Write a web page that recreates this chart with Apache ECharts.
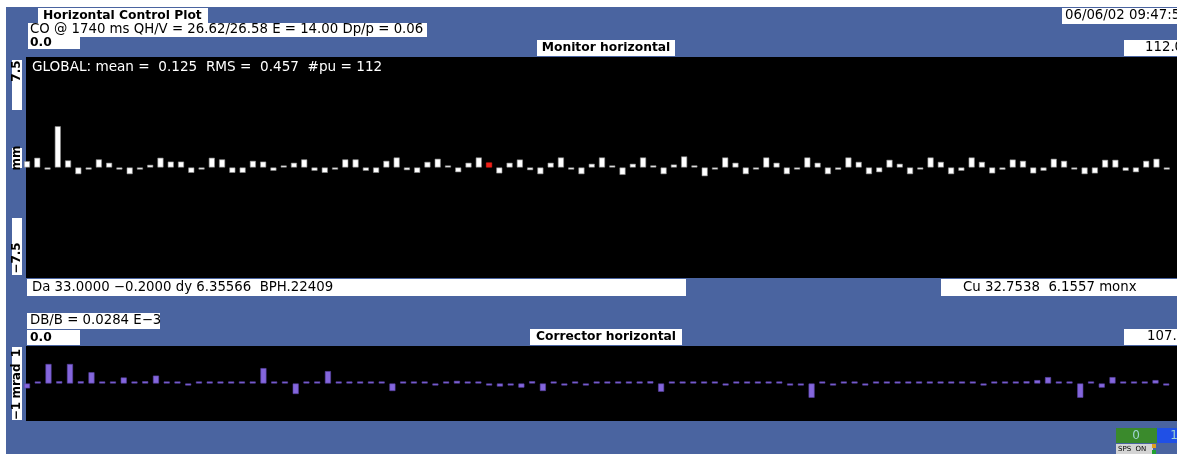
<!DOCTYPE html>
<html>
<head>
<meta charset="utf-8">
<script src="https://cdn.jsdelivr.net/npm/echarts@6/dist/echarts.min.js"></script>
<style>
  html, body { margin: 0; padding: 0; background: #ffffff; overflow: hidden; }
  #chart { width: 1177px; height: 454px; }
</style>
</head>
<body>
<div id="chart"></div>
<script>
// Beam position per pickup (mm), pickups 0..111
const monitorValues = [
  0.43, 0.66, -0.14, 2.8, 0.48, -0.45, -0.14, 0.55, 0.32, -0.14,
  -0.45, -0.14, 0.18, 0.66, 0.4, 0.4, -0.36, -0.14, 0.66, 0.55,
  -0.36, -0.36, 0.45, 0.4, -0.22, 0.02, 0.32, 0.55, -0.22, -0.36,
  -0.14, 0.55, 0.55, -0.22, -0.36, 0.45, 0.68, -0.18, -0.36, 0.38,
  0.59, 0.03, -0.32, 0.32, 0.68, 0.34, -0.4, 0.32, 0.54, -0.18,
  -0.45, 0.32, 0.68, -0.14, -0.45, 0.25, 0.68, 0.02, -0.5, 0.25,
  0.68, 0.14, -0.45, 0.2, 0.75, 0.14, -0.59, -0.1, 0.68, 0.32,
  -0.45, -0.1, 0.68, 0.32, -0.45, -0.1, 0.68, 0.32, -0.45, -0.15,
  0.68, 0.38, -0.45, -0.32, 0.52, 0.25, -0.45, -0.1, 0.68, 0.38,
  -0.45, -0.22, 0.68, 0.38, -0.4, -0.15, 0.54, 0.45, -0.4, -0.22,
  0.59, 0.45, -0.1, -0.45, -0.4, 0.52, 0.52, -0.22, -0.32, 0.45,
  0.59, -0.14
];
// Corrector kicks (mrad), correctors 0..106
const correctorValues = [
  -0.13, 0.02, 0.52, 0.06, 0.52, 0.06, 0.3, 0.01, 0.01, 0.16,
  0.01, 0.06, 0.21, 0.02, 0.01, -0.03, 0.01, 0.01, 0.01, 0.01,
  0.01, 0.01, 0.41, 0.01, 0.01, -0.28, 0.01, 0.01, 0.33, 0.01,
  0.01, 0.01, 0.01, 0.01, -0.2, 0.01, 0.01, 0.01, -0.04, 0.01,
  0.07, 0.03, 0.01, -0.04, -0.08, -0.04, -0.11, 0.06, -0.2, 0.03,
  -0.04, 0.03, -0.04, 0.03, 0.01, 0.01, 0.01, 0.03, 0.06, -0.22,
  0.01, 0.01, 0.01, 0.01, 0.01, -0.04, 0.01, 0.01, 0.01, 0.01,
  0.01, -0.04, -0.04, -0.38, 0.01, -0.04, 0.01, 0.01, -0.04, 0.03,
  0.01, 0.01, 0.01, 0.01, 0.03, 0.01, 0.01, 0.01, 0.01, -0.04,
  0.03, 0.03, 0.03, 0.06, 0.09, 0.17, 0.03, 0.01, -0.38, 0.01,
  -0.11, 0.17, 0.03, 0.01, 0.03, 0.09, -0.04
];
const selectedMonitor = 45;
const monitorAxis = { min: -7.5, max: 7.5, count: 112 };
const correctorAxis = { min: -1, max: 1, count: 107 };

const titleText = 'Horizontal Control Plot';
const timeText = '06/06/02 09:47:5';
const cycleText = 'CO @ 1740 ms QH/V = 26.62/26.58 E = 14.00 Dp/p = 0.06';
const statsText = 'GLOBAL: mean =  0.125  RMS =  0.457  #pu = 112';
const cursorLeftText = 'Da 33.0000 \u22120.2000 dy 6.35566  BPH.22409';
const cursorRightText = 'Cu 32.7538  6.1557 monx';
const dbText = 'DB/B = 0.0284 E\u22123';

const BLUE = '#4a64a0';
const PURPLE = '#8466dc';
const FONT = '"DejaVu Sans", sans-serif';
const TXT = 13.3;

const chart = echarts.init(document.getElementById('chart'), null, { renderer: 'canvas' });

function rect(x, y, w, h, fill, z) {
  return { type: 'rect', shape: { x: x, y: y, width: w, height: h }, style: { fill: fill }, z: z || 1, silent: true };
}
function text(str, x, y, opt) {
  opt = opt || {};
  return {
    type: 'text', x: x, y: y, z: 5, silent: true, rotation: opt.rotation || 0,
    style: {
      text: str,
      fill: opt.color || '#000',
      font: (opt.bold ? 'bold ' : '') + (opt.size || TXT) + 'px ' + FONT,
      textAlign: opt.align || 'left',
      textVerticalAlign: 'middle'
    }
  };
}

const graphics = [
  // window frame and panel
  rect(0, 0, 1177, 454, '#ffffff', 0),
  rect(6, 7, 1171, 447, BLUE, 0),
  // plot panels
  rect(26, 57, 1151, 221, '#000', 0),
  rect(26, 346, 1151, 75, '#000', 0),

  // header
  rect(38, 8, 170, 15, '#fff'), text(titleText, 43, 15.5, { bold: true, size: 12.3 }),
  rect(1062, 8, 120, 16, '#fff'), text(timeText, 1065, 16),
  rect(28, 23, 399, 14, '#fff'), text(cycleText, 30, 30),
  rect(28, 37, 52, 12, '#fff'), text('0.0', 30, 43, { bold: true, size: 12.3 }),
  rect(537, 40, 138, 16, '#fff'), text('Monitor horizontal', 606, 48, { bold: true, size: 12.3, align: 'center' }),
  rect(1124, 40, 60, 16, '#fff'), text('112.0', 1145, 48),
  text(statsText, 32, 67, { color: '#fff', size: 13.6 }),

  // monitor y-axis labels
  rect(12, 60, 10, 50, '#fff'), text('7.5', 17, 71, { bold: true, size: 12, rotation: Math.PI / 2, align: 'center' }),
  rect(12, 148, 10, 20, '#fff'), text('mm', 17, 158, { bold: true, size: 12, rotation: Math.PI / 2, align: 'center' }),
  rect(12, 218, 10, 57, '#fff'), text('\u22127.5', 17, 258, { bold: true, size: 12, rotation: Math.PI / 2, align: 'center' }),

  // cursor readouts
  rect(27, 279, 659, 17, '#fff'), text(cursorLeftText, 32, 287.5),
  rect(941, 279, 240, 17, '#fff'), text(cursorRightText, 963, 287.5),

  // corrector header
  rect(27, 313, 133, 16, '#fff'), text(dbText, 30, 321),
  rect(27, 330, 53, 15, '#fff'), text('0.0', 30, 337.5, { bold: true, size: 12.3 }),
  rect(530, 329, 152, 16, '#fff'), text('Corrector horizontal', 606, 337, { bold: true, size: 12.3, align: 'center' }),
  rect(1124, 329, 60, 16, '#fff'), text('107.0', 1147, 337),

  // corrector y-axis label
  rect(12, 347, 10, 73, '#fff'),
  text('\u22121', 17, 411, { bold: true, size: 12, rotation: Math.PI / 2, align: 'center' }),
  text('mrad', 17, 381, { bold: true, size: 12, rotation: Math.PI / 2, align: 'center' }),
  text('1', 17, 353, { bold: true, size: 12, rotation: Math.PI / 2, align: 'center' }),

  // status widget
  rect(1116, 428, 41, 15, '#3a8a2c'), text('0', 1136, 436, { color: '#9fd4d4', size: 12, align: 'center' }),
  rect(1157, 428, 20, 15, '#2050e6'), text('1', 1174, 436, { color: '#9fd4d4', size: 12, align: 'center' }),
  rect(1116, 444, 37, 10, '#d4d4d4'), text('SPS  ON', 1118, 449.5, { size: 7 }),
  rect(1152, 444, 4, 4, '#e0a020'), rect(1152, 450, 4, 4, '#20a030')
];

const monitorData = monitorValues.map(function (v, i) {
  const item = { value: [i, v] };
  if (i === selectedMonitor) item.itemStyle = { color: '#ee2018', borderColor: '#ee2018' };
  return item;
});
const correctorData = correctorValues.map(function (v, i) { return [i, v]; });

chart.setOption({
  backgroundColor: BLUE,
  animation: false,
  graphic: { elements: graphics },
  grid: [
    { left: 27, top: 57, width: 1160, height: 221, show: false },
    { left: 27, top: 346, width: 1161, height: 75, show: false }
  ],
  xAxis: [
    { type: 'value', gridIndex: 0, min: 0, max: monitorAxis.count, show: false },
    { type: 'value', gridIndex: 1, min: 0, max: correctorAxis.count, show: false }
  ],
  yAxis: [
    { type: 'value', gridIndex: 0, min: monitorAxis.min, max: monitorAxis.max, show: false },
    { type: 'value', gridIndex: 1, min: correctorAxis.min, max: correctorAxis.max, show: false }
  ],
  series: [
    {
      type: 'bar', xAxisIndex: 0, yAxisIndex: 0, data: monitorData,
      barWidth: 6, barMinHeight: 2, clip: true,
      itemStyle: { color: '#ffffff', borderColor: '#8a8a8a', borderWidth: 0.6 }, z: 3
    },
    {
      type: 'bar', xAxisIndex: 1, yAxisIndex: 1, data: correctorData,
      barWidth: 6, barMinHeight: 2, clip: true,
      itemStyle: { color: PURPLE, borderColor: '#5a44a8', borderWidth: 0.6 }, z: 3
    }
  ]
});
</script>
</body>
</html>
